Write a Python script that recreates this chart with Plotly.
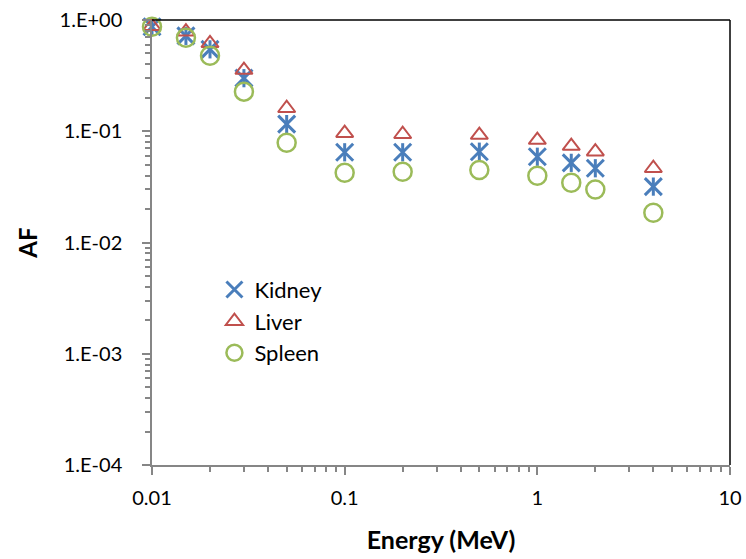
import plotly.graph_objects as go

energy = [0.01, 0.015, 0.02, 0.03, 0.05, 0.1, 0.2, 0.5, 1, 1.5, 2, 4]
kidney = [0.87, 0.72, 0.545, 0.30, 0.116, 0.0647, 0.0647, 0.0655, 0.059, 0.052, 0.0465, 0.0318]
liver = [0.88, 0.785, 0.617, 0.355, 0.161, 0.096, 0.094, 0.0925, 0.0834, 0.0736, 0.0655, 0.0465]
spleen = [0.87, 0.693, 0.478, 0.227, 0.0789, 0.0424, 0.0433, 0.0449, 0.0398, 0.0345, 0.030, 0.0185]

y_tickvals = [1e-4, 1e-3, 1e-2, 1e-1, 1]
y_ticktext = ["1.E-04", "1.E-03", "1.E-02", "1.E-01", "1.E+00"]
x_tickvals = [0.01, 0.1, 1, 10]
x_ticktext = ["0.01", "0.1", "1", "10"]

BLUE = "#4A7EBB"
RED = "#C0504D"
GREEN = "#9BBB59"
GRAY = "#868686"
FONT = "Lato"

fig = go.Figure()
fig.add_trace(go.Scatter(
    x=energy, y=kidney, mode="markers", name="Kidney", legendgroup="k",
    marker=dict(symbol="x-thin-open", size=17, color=BLUE,
                line=dict(color=BLUE, width=3)),
    cliponaxis=False))
fig.add_trace(go.Scatter(
    x=energy, y=kidney, mode="markers", name="Kidney", legendgroup="k",
    showlegend=False,
    marker=dict(symbol="line-ns-open", size=13, color=BLUE,
                line=dict(color=BLUE, width=3)),
    cliponaxis=False))
fig.add_trace(go.Scatter(
    x=energy, y=liver, mode="markers", name="Liver",
    marker=dict(symbol="triangle-up-open", size=15, color=RED,
                line=dict(color=RED, width=2)),
    cliponaxis=False))
fig.add_trace(go.Scatter(
    x=energy, y=spleen, mode="markers", name="Spleen",
    marker=dict(symbol="circle-open", size=18, color=GREEN,
                line=dict(color=GREEN, width=2.5)),
    cliponaxis=False))

x_minor = [m * 10.0 ** e for e in (-2, -1, 0) for m in range(2, 10)]
y_minor = [m * 10.0 ** e for e in (-4, -3, -2, -1) for m in range(2, 10)]

fig.update_xaxes(
    type="log", range=[-2, 1], tickmode="array", tickvals=x_tickvals, ticktext=x_ticktext,
    automargin=False,
    showgrid=False, zeroline=False, showline=True, linecolor=GRAY, linewidth=1.5,
    ticks="outside", ticklen=8, tickwidth=1.5, tickcolor=GRAY, ticklabelstandoff=6,
    tickfont=dict(family=FONT, size=20, color="black"),
    minor=dict(tickmode="array", tickvals=x_minor, ticks="outside", ticklen=5,
               tickwidth=1.5, tickcolor=GRAY, showgrid=False),
    title=dict(text="<b>Energy (MeV)</b>", font=dict(family=FONT, size=25, color="black"),
               standoff=24),
)
fig.update_yaxes(
    type="log", range=[-4, 0], tickmode="array", tickvals=y_tickvals, ticktext=y_ticktext,
    automargin=False,
    showgrid=False, zeroline=False, showline=True, linecolor=GRAY, linewidth=1.5,
    ticks="outside", ticklen=8, tickwidth=1.5, tickcolor=GRAY, ticklabelstandoff=16,
    tickfont=dict(family=FONT, size=20, color="black"),
    minor=dict(tickmode="array", tickvals=y_minor, ticks="outside", ticklen=5,
               tickwidth=1.5, tickcolor=GRAY, showgrid=False),
    title=dict(text="<b>AF</b>", font=dict(family=FONT, size=24, color="black"),
               standoff=15),
)

fig.add_shape(type="line", xref="paper", yref="paper", x0=0, x1=1, y0=1, y1=1,
              line=dict(color="black", width=1.5))
fig.add_shape(type="line", xref="paper", yref="paper", x0=1, x1=1, y0=0, y1=1,
              line=dict(color="black", width=1.5))

fig.update_layout(
    width=746, height=559,
    margin=dict(l=152, r=16, t=20, b=94),
    plot_bgcolor="white", paper_bgcolor="white",
    font=dict(family=FONT, color="black"),
    showlegend=True,
    legend=dict(x=0.108, y=0.441, xanchor="left", yanchor="top", tracegroupgap=0,
                bgcolor="rgba(0,0,0,0)", font=dict(family=FONT, size=22, color="black"),
                itemsizing="trace"),
)

fig.write_html("out.html")
